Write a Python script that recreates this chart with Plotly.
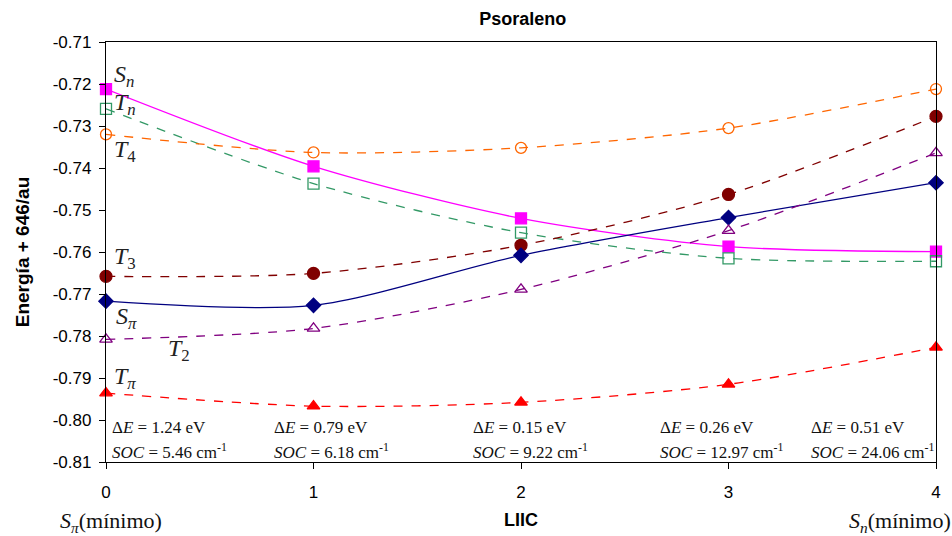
import plotly.graph_objects as go

x = [0, 1, 2, 3, 4]
Sn = [-0.7212, -0.7396, -0.7520, -0.7587, -0.7599]
Tn = [-0.7259, -0.7437, -0.7554, -0.7615, -0.7622]
T4 = [-0.7320, -0.7363, -0.7352, -0.7305, -0.7212]
T3 = [-0.7658, -0.7651, -0.7584, -0.7463, -0.7277]
Spi = [-0.7717, -0.7727, -0.7608, -0.7518, -0.7435]
T2 = [-0.7808, -0.7782, -0.7689, -0.7549, -0.7364]
Tpi = [-0.7936, -0.7967, -0.7958, -0.7915, -0.7827]

ytickvals = [-0.81, -0.80, -0.79, -0.78, -0.77, -0.76, -0.75, -0.74, -0.73, -0.72, -0.71]
yticktext = ["-0.81", "-0.80", "-0.79", "-0.78", "-0.77", "-0.76", "-0.75", "-0.74", "-0.73", "-0.72", "-0.71"]

dE = ["1.24", "0.79", "0.15", "0.26", "0.51"]
soc = ["5.46", "6.18", "9.22", "12.97", "24.06"]
ann_x = [0.02, 0.80, 1.76, 2.66, 3.39]

series = [
    (Sn, "#FF00FF", "solid", "square", "#FF00FF", 11),
    (Tn, "#339966", "dash", "square-open", "#339966", 11),
    (T4, "#FF6600", "dash", "circle-open", "#FF6600", 11),
    (T3, "#800000", "dash", "circle", "#800000", 12),
    (Spi, "#000080", "solid", "diamond", "#000080", 11),
    (T2, "#800080", "dash", "triangle-up-open", "#800080", 11),
    (Tpi, "#FF0000", "dash", "triangle-up", "#FF0000", 11),
]

fig = go.Figure()
for ys, col, dash, sym, mcol, msz in series:
    fig.add_trace(go.Scatter(
        x=x, y=ys, mode="lines+markers",
        line=dict(color=col, width=1.3, dash=dash, shape="spline", smoothing=0.8),
        marker=dict(symbol=sym, color=mcol, size=msz, line=dict(color=mcol, width=1.3)),
        cliponaxis=False, showlegend=False,
    ))

serif = "Liberation Serif, Times New Roman, serif"
anns = []
labels = [
    ("<i>S</i><sub><i>n</i></sub>", 0.03, -0.7180),
    ("<i>T</i><sub><i>n</i></sub>", 0.03, -0.7247),
    ("<i>T</i><sub>4</sub>", 0.03, -0.7359),
    ("<i>T</i><sub>3</sub>", 0.03, -0.7615),
    ("<i>S</i><sub><i>π</i></sub>", 0.04, -0.7758),
    ("<i>T</i><sub>2</sub>", 0.29, -0.7834),
    ("<i>T</i><sub><i>π</i></sub>", 0.03, -0.7900),
]
for t, lx, ly in labels:
    anns.append(dict(x=lx, y=ly, xref="x", yref="y", text=t, showarrow=False,
                     xanchor="left", yanchor="middle",
                     font=dict(family=serif, size=24, color="#222222")))

for i in range(5):
    anns.append(dict(x=ann_x[i], y=-0.8017, xref="x", yref="y",
                     text="Δ<i>E</i> = " + dE[i] + " eV", showarrow=False,
                     xanchor="left", yanchor="middle",
                     font=dict(family=serif, size=17, color="#111111")))
    anns.append(dict(x=ann_x[i], y=-0.8074, xref="x", yref="y",
                     text="<i>SOC</i> = " + soc[i] + " cm<sup>-1</sup>", showarrow=False,
                     xanchor="left", yanchor="middle",
                     font=dict(family=serif, size=17, color="#111111")))

anns.append(dict(x=-0.058, y=-0.143, xref="paper", yref="paper",
                 text="<i>S</i><sub><i>π</i></sub>(mínimo)", showarrow=False,
                 xanchor="left", yanchor="middle",
                 font=dict(family=serif, size=22, color="#111111")))
anns.append(dict(x=1.02, y=-0.143, xref="paper", yref="paper",
                 text="<i>S</i><sub><i>n</i></sub>(mínimo)", showarrow=False,
                 xanchor="right", yanchor="middle",
                 font=dict(family=serif, size=22, color="#111111")))

fig.update_layout(
    width=952, height=536,
    margin=dict(l=106, r=16, t=42, b=74),
    paper_bgcolor="white", plot_bgcolor="white",
    font=dict(family="Liberation Sans, Arial, sans-serif", size=17, color="black"),
    title=dict(text="<b>Psoraleno</b>", x=0.549, xanchor="center", y=0.965, yanchor="middle",
               font=dict(size=18)),
    annotations=anns,
)
fig.update_xaxes(range=[0, 4], tickvals=x, ticktext=[str(v) for v in x],
                 showline=True, linecolor="black", linewidth=1.3, mirror=True,
                 ticks="outside", ticklen=6, tickcolor="black", showgrid=False, zeroline=False,
                 ticklabelstandoff=8, automargin=False,
                 title=dict(text="<b>LIIC</b>", standoff=12, font=dict(size=18)))
fig.update_yaxes(range=[-0.81, -0.71], tickvals=ytickvals, ticktext=yticktext,
                 showline=True, linecolor="black", linewidth=1.3, mirror=True,
                 ticks="outside", ticklen=6, tickcolor="black", showgrid=False, zeroline=False,
                 ticklabelstandoff=4, automargin=False,
                 title=dict(text="<b>Energía + 646/au</b>", standoff=18, font=dict(size=19)))

fig.write_html("out.html")
